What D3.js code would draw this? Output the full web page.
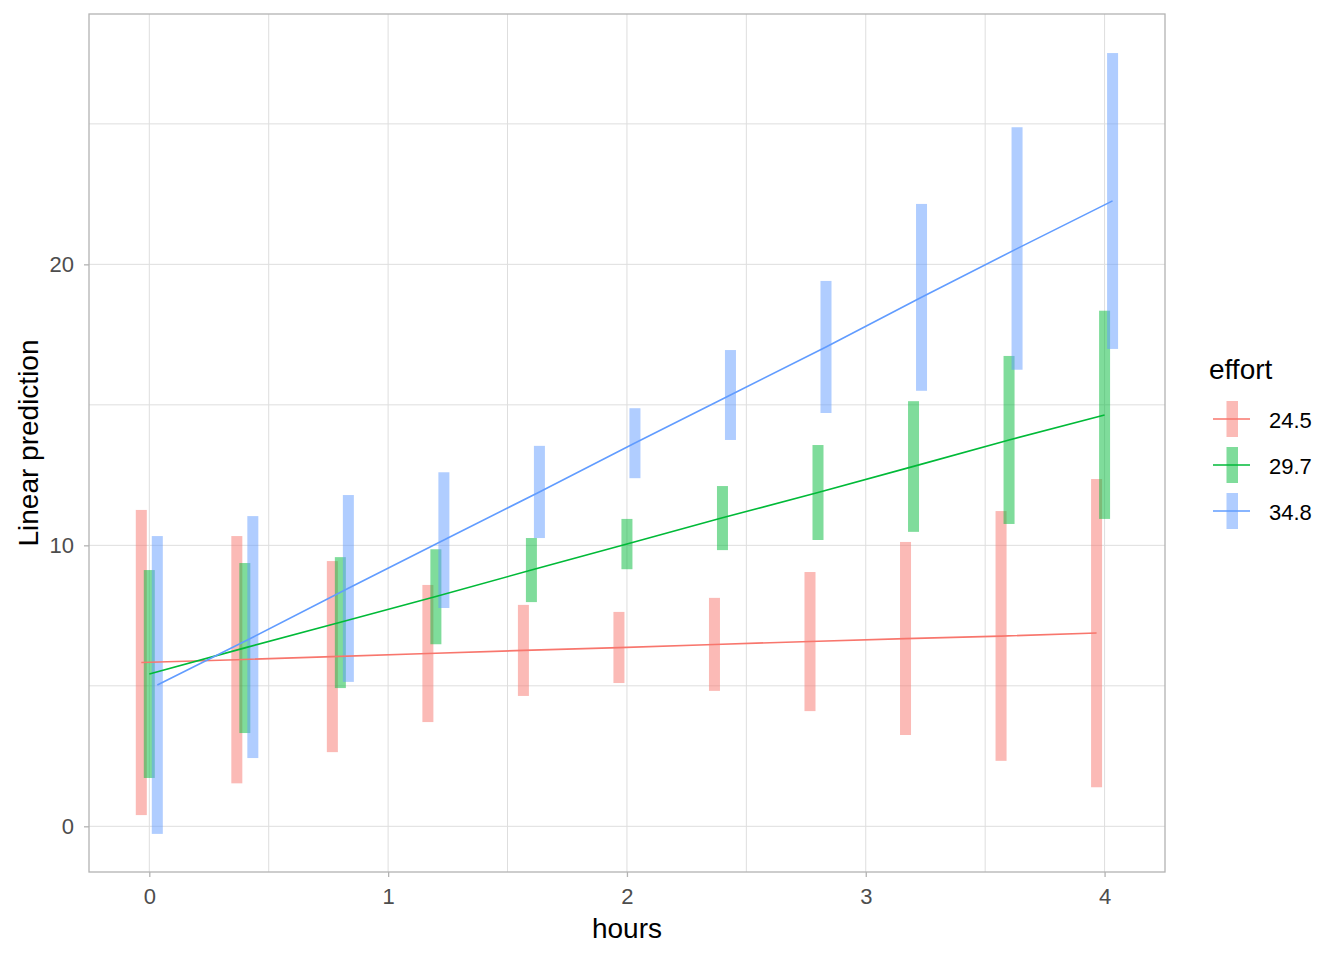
<!DOCTYPE html>
<html>
<head>
<meta charset="utf-8">
<script src="https://cdn.jsdelivr.net/npm/d3@7"></script>
<style>
  body { margin: 0; background: #fff; }
  text { font-family: "Liberation Sans", Arial, sans-serif; }
</style>
</head>
<body>
<svg id="chart" width="1344" height="960"></svg>
<script>
// hours at which predictions were made
const hours = [0, 0.4, 0.8, 1.2, 1.6, 2.0, 2.4, 2.8, 3.2, 3.6, 4.0];
const effortLevels = ["24.5", "29.7", "34.8"];
const colors = ["#F8766D", "#00BA38", "#619CFF"];

// predicted values and CI bounds
const pred_245 = [5.83, 5.93, 6.04, 6.15, 6.26, 6.36, 6.47, 6.58, 6.68, 6.77, 6.88];
const lo_245 = [0.40, 1.53, 2.64, 3.71, 4.64, 5.10, 4.82, 4.10, 3.25, 2.33, 1.39];
const hi_245 = [11.26, 10.33, 9.44, 8.59, 7.88, 7.63, 8.13, 9.05, 10.12, 11.22, 12.36];

const pred_297 = [5.42, 6.35, 7.26, 8.18, 9.12, 10.05, 10.98, 11.88, 12.81, 13.75, 14.64];
const lo_297 = [1.72, 3.32, 4.92, 6.48, 7.98, 9.15, 9.83, 10.19, 10.48, 10.76, 10.94];
const hi_297 = [9.12, 9.37, 9.58, 9.86, 10.26, 10.94, 12.11, 13.57, 15.13, 16.74, 18.35];

const pred_348 = [5.03, 6.73, 8.47, 10.19, 11.90, 13.64, 15.35, 17.06, 18.83, 20.56, 22.26];
const lo_348 = [-0.27, 2.43, 5.14, 7.77, 10.26, 12.39, 13.75, 14.71, 15.50, 16.25, 16.99];
const hi_348 = [10.33, 11.04, 11.79, 12.60, 13.54, 14.88, 16.95, 19.41, 22.15, 24.88, 27.52];

const xTicks = [0, 1, 2, 3, 4];
const yTicks = [0, 10, 20];

const series = [
  { level: effortLevels[0], pred: pred_245, lo: lo_245, hi: hi_245, dodge: -1 },
  { level: effortLevels[1], pred: pred_297, lo: lo_297, hi: hi_297, dodge: 0 },
  { level: effortLevels[2], pred: pred_348, lo: lo_348, hi: hi_348, dodge: 1 }
];

const svg = d3.select("#chart");
const panel = { left: 89, right: 1165, top: 14, bottom: 872 };
const dodgeStep = 0.0335;

const x = d3.scaleLinear().domain([-0.2525, 4.253]).range([panel.left, panel.right]);
const y = d3.scaleLinear().domain([-1.626, 28.91]).range([panel.bottom, panel.top]);

// Grid (major + minor)
const grid = svg.append("g");
const xGrid = d3.range(0, 4.01, 0.5);
const yGrid = d3.range(0, 26, 5);
grid.selectAll(".gx").data(xGrid).enter().append("line")
  .attr("x1", d => x(d)).attr("x2", d => x(d))
  .attr("y1", panel.top).attr("y2", panel.bottom)
  .attr("stroke", "#DEDEDE").attr("stroke-width", 1);
grid.selectAll(".gy").data(yGrid).enter().append("line")
  .attr("x1", panel.left).attr("x2", panel.right)
  .attr("y1", d => y(d)).attr("y2", d => y(d))
  .attr("stroke", "#DEDEDE").attr("stroke-width", 1);

// CI bars
const bars = svg.append("g");
series.forEach((s, si) => {
  bars.selectAll(".bar" + si).data(hours).enter().append("rect")
    .attr("x", (d, i) => x(d + s.dodge * dodgeStep) - 5.5)
    .attr("width", 11)
    .attr("y", (d, i) => y(s.hi[i]))
    .attr("height", (d, i) => y(s.lo[i]) - y(s.hi[i]))
    .attr("fill", colors[si])
    .attr("fill-opacity", 0.5);
});

// Prediction lines
const line = d3.line()
  .x(d => x(d[0]))
  .y(d => y(d[1]));
series.forEach((s, si) => {
  svg.append("path")
    .datum(hours.map((h, i) => [h + s.dodge * dodgeStep, s.pred[i]]))
    .attr("fill", "none")
    .attr("stroke", colors[si])
    .attr("stroke-width", 1.6)
    .attr("d", line);
});

// Panel border
svg.append("rect")
  .attr("x", panel.left).attr("y", panel.top)
  .attr("width", panel.right - panel.left).attr("height", panel.bottom - panel.top)
  .attr("fill", "none").attr("stroke", "#B3B3B3").attr("stroke-width", 1.3);

// Axes
const xAxis = svg.append("g")
  .attr("transform", `translate(0, ${panel.bottom})`)
  .call(d3.axisBottom(x).tickValues(xTicks).tickFormat(d3.format("d")).tickSize(5).tickPadding(11));
const yAxis = svg.append("g")
  .attr("transform", `translate(${panel.left}, 0)`)
  .call(d3.axisLeft(y).tickValues(yTicks).tickFormat(d3.format("d")).tickSize(5).tickPadding(10));
[xAxis, yAxis].forEach(a => {
  a.select(".domain").remove();
  a.selectAll(".tick line").attr("stroke", "#B3B3B3").attr("stroke-width", 1.3);
  a.selectAll(".tick text").attr("fill", "#4D4D4D").style("font-size", "22px")
    .style("font-family", "'Liberation Sans', Arial, sans-serif");
});

// Axis titles
svg.append("text")
  .attr("x", (panel.left + panel.right) / 2).attr("y", 938)
  .attr("text-anchor", "middle").style("font-size", "28px").attr("fill", "#000")
  .text("hours");
svg.append("text")
  .attr("transform", `translate(38, ${(panel.top + panel.bottom) / 2}) rotate(-90)`)
  .attr("text-anchor", "middle").style("font-size", "28px").attr("fill", "#000")
  .text("Linear prediction");

// Legend
const legend = svg.append("g");
legend.append("text").attr("x", 1209).attr("y", 379)
  .style("font-size", "28px").attr("fill", "#000").text("effort");
const keyY = [419, 465, 511];
effortLevels.forEach((lv, i) => {
  legend.append("rect")
    .attr("x", 1226.5).attr("y", keyY[i] - 18).attr("width", 11.5).attr("height", 36)
    .attr("fill", colors[i]).attr("fill-opacity", 0.5);
  legend.append("line")
    .attr("x1", 1213).attr("x2", 1250).attr("y1", keyY[i]).attr("y2", keyY[i])
    .attr("stroke", colors[i]).attr("stroke-width", 1.6);
  legend.append("text").attr("x", 1269).attr("y", keyY[i] + 9)
    .style("font-size", "22px").attr("fill", "#000").text(lv);
});
</script>
</body>
</html>
